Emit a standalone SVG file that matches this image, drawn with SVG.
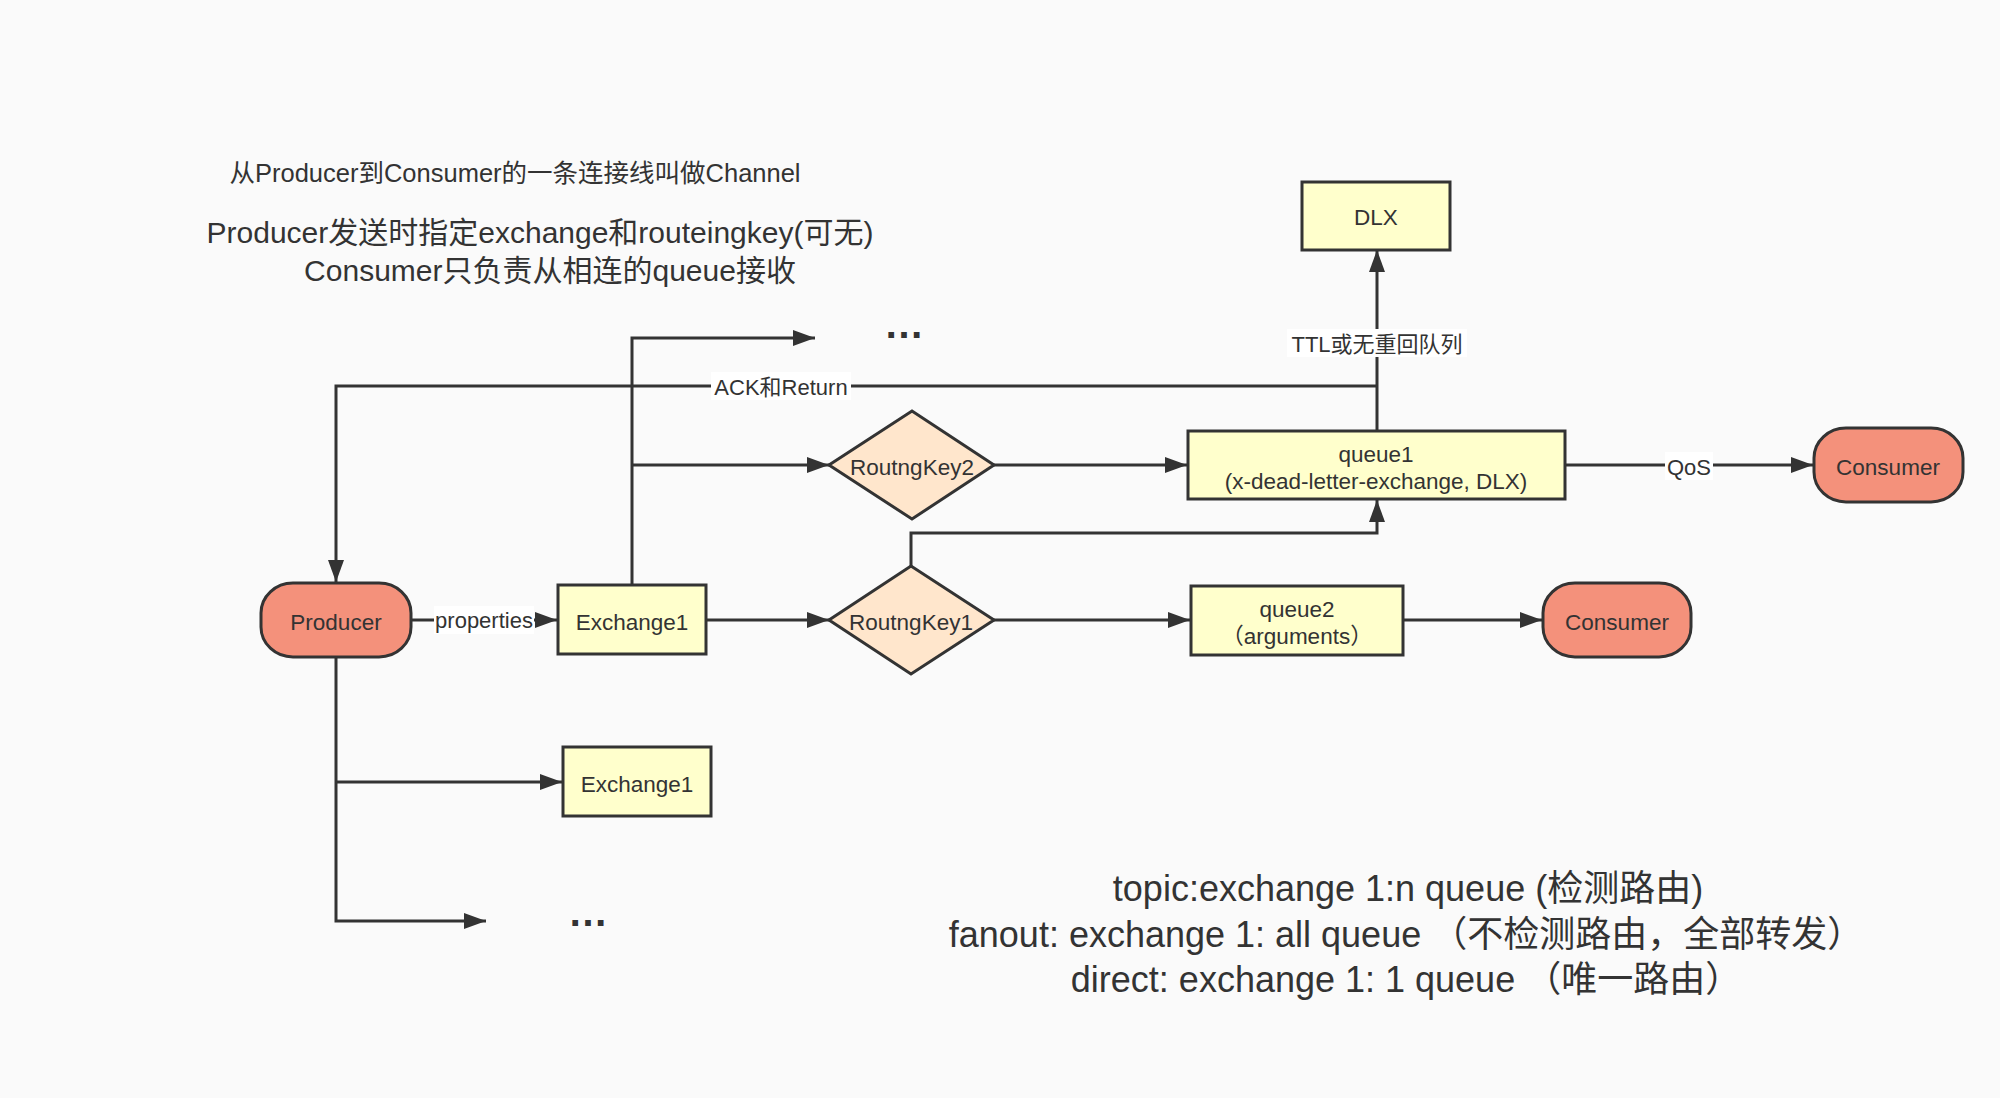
<svg xmlns="http://www.w3.org/2000/svg" width="2000" height="1098" viewBox="0 0 2000 1098">
<defs>
<marker id="arr" markerUnits="userSpaceOnUse" markerWidth="24" markerHeight="18" refX="22" refY="8" orient="auto">
<path d="M0,0 L22,8 L0,16 Z" fill="#333"/>
</marker>
<style>
.t{font-family:"Liberation Sans","Noto Sans CJK SC",sans-serif;fill:#333;}
.n{font-size:22.5px;text-anchor:middle;}
.lbl{font-size:22px;text-anchor:middle;}
.c{fill:none;stroke:#333;stroke-width:3;}
.a{marker-end:url(#arr);}
.term{fill:#f4917b;stroke:#333;stroke-width:3;}
.box{fill:#ffffcc;stroke:#333;stroke-width:3;}
.dia{fill:#ffe6cc;stroke:#333;stroke-width:3;}
.lb{fill:#ffffff;}
.dots{font-size:40px;text-anchor:middle;font-weight:bold;}
</style>
</defs>
<rect width="2000" height="1098" fill="#fafafa"/>

<g id="notes">
<text class="t" x="515" y="182" font-size="25.5" text-anchor="middle">从Producer到Consumer的一条连接线叫做Channel</text>
<text class="t" x="540" y="243" font-size="30" text-anchor="middle">Producer发送时指定exchange和routeingkey(可无)</text>
<text class="t" x="550" y="281" font-size="30" text-anchor="middle">Consumer只负责从相连的queue接收</text>
<text class="t" x="1408" y="901" font-size="36" text-anchor="middle">topic:exchange 1:n queue (检测路由)</text>
<text class="t" x="1406" y="947" font-size="36" text-anchor="middle">fanout: exchange 1: all queue （不检测路由，全部转发）</text>
<text class="t" x="1406" y="992" font-size="36" text-anchor="middle">direct: exchange 1: 1 queue （唯一路由）</text>
<text class="t dots" x="904" y="338">…</text>
<text class="t dots" x="588" y="926">…</text>
</g>

<g id="connectors">
<path class="c a" d="M411,620 L557,620"/>
<path class="c a" d="M707,620 L829,620"/>
<path class="c a" d="M632,584 L632,338 L815,338"/>
<path class="c a" d="M632,465 L829,465"/>
<path class="c a" d="M1377,430 L1377,250"/>
<path class="c a" d="M1377,386 L336,386 L336,582"/>
<path class="c a" d="M994,465 L1187,465"/>
<path class="c a" d="M911,566 L911,533 L1377,533 L1377,500"/>
<path class="c a" d="M994,620 L1190,620"/>
<path class="c a" d="M1565,465 L1813,465"/>
<path class="c a" d="M1403,620 L1542,620"/>
<path class="c a" d="M336,658 L336,921 L486,921"/>
<path class="c a" d="M336,782 L562,782"/>
<rect class="lb" x="434" y="606" width="100" height="28"/>
<text class="t lbl" x="484" y="628">properties</text>
<rect class="lb" x="711" y="372" width="140" height="28"/>
<text class="t lbl" x="781" y="395">ACK和Return</text>
<rect class="lb" x="1287" y="329" width="180" height="28"/>
<text class="t lbl" x="1377" y="352">TTL或无重回队列</text>
<rect class="lb" x="1665" y="452" width="48" height="28"/>
<text class="t lbl" x="1689" y="475">QoS</text>
</g>

<g id="DLX">
<rect class="box" x="1302" y="182" width="148" height="68"/>
<text class="t n" x="1376" y="225">DLX</text>
</g>
<g id="Producer">
<rect class="term" x="261" y="583" width="150" height="74" rx="32" ry="30"/>
<text class="t n" x="336" y="630">Producer</text>
</g>
<g id="Exchange1">
<rect class="box" x="558" y="585" width="148" height="69"/>
<text class="t n" x="632" y="630">Exchange1</text>
</g>
<g id="Exchange1b">
<rect class="box" x="563" y="747" width="148" height="69"/>
<text class="t n" x="637" y="792">Exchange1</text>
</g>
<g id="RoutngKey2">
<polygon class="dia" points="829,465 912,411 994,465 912,519"/>
<text class="t n" x="912" y="475">RoutngKey2</text>
</g>
<g id="RoutngKey1">
<polygon class="dia" points="829,620 911,566 994,620 911,674"/>
<text class="t n" x="911" y="630">RoutngKey1</text>
</g>
<g id="queue1">
<rect class="box" x="1188" y="431" width="377" height="68"/>
<text class="t n" x="1376" y="462">queue1</text>
<text class="t n" x="1376" y="489">(x-dead-letter-exchange, DLX)</text>
</g>
<g id="queue2">
<rect class="box" x="1191" y="586" width="212" height="69"/>
<text class="t n" x="1297" y="617">queue2</text>
<text class="t n" x="1297" y="644">（arguments）</text>
</g>
<g id="Consumer1">
<rect class="term" x="1814" y="428" width="149" height="74" rx="32" ry="30"/>
<text class="t n" x="1888" y="475">Consumer</text>
</g>
<g id="Consumer2">
<rect class="term" x="1543" y="583" width="148" height="74" rx="32" ry="30"/>
<text class="t n" x="1617" y="630">Consumer</text>
</g>
</svg>
